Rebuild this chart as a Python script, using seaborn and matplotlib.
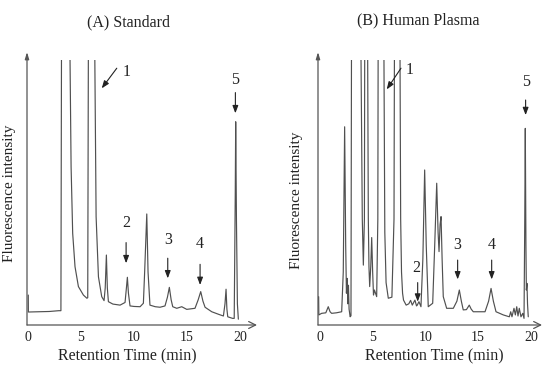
import numpy as np
import pandas as pd
import matplotlib
matplotlib.use("Agg")
import matplotlib.pyplot as plt
import seaborn as sns

# (A) Standard: retention time (min) / fluorescence signal (arbitrary units)
std_time = [0.02, 0.03, 1.0, 2.0, 2.9, 3.1, 3.18, 3.85, 3.96, 4.06, 4.21, 4.43, 4.75, 5.22, 5.55,
            5.63, 5.72, 6.2, 6.3, 6.42, 6.64, 6.95, 7.17, 7.28, 7.39, 7.48, 7.58, 8.0, 8.68,
            9.15, 9.28, 9.37, 9.47, 9.62, 10.0, 10.57, 10.88, 11.0, 11.2, 11.32, 11.5, 12.0,
            12.45, 12.92, 13.15, 13.33, 13.5, 13.65, 14.03, 14.5, 14.97, 15.75, 16.05, 16.29,
            16.5, 16.7, 17.33, 18.0, 18.43, 18.58, 18.68, 18.76, 18.84, 19.3, 19.45, 19.55,
            19.59, 19.66, 19.75, 19.84]
std_signal = [11.3, 4.9, 5.0, 5.1, 5.4, 5.4, 150, 150, 100, 59.7, 34.6, 22.0, 14.5, 11.3, 10.1,
              10.3, 150, 150, 100, 40.9, 18.2, 10.7, 9.2, 14.0, 26.4, 14.0, 8.8, 7.9, 7.5,
              8.5, 14.0, 18.0, 12.0, 7.2, 7.0, 6.9, 8.2, 20.0, 41.9, 20.0, 7.5, 6.9,
              6.7, 7.2, 10.5, 14.2, 9.5, 6.9, 6.3, 6.9, 5.9, 6.3, 9.5, 12.6,
              9.0, 6.7, 5.0, 4.0, 3.4, 8.0, 13.5, 6.0, 3.1, 2.5, 2.5, 50.0,
              76.7, 40.0, 8.0, 2.2]

# (B) Human plasma
plasma_time = [-0.08, -0.06, 0.2, 0.6, 0.83, 1.0, 1.15, 1.6, 2.1, 2.25, 2.38, 2.48, 2.55, 2.62,
               2.68, 2.74, 2.8, 2.9, 2.98, 3.05, 3.85, 3.93, 4.05, 4.15, 4.25, 4.3, 4.5, 4.56,
               4.62, 4.68, 4.75, 4.85, 4.94, 5.03, 5.11, 5.2, 5.3, 5.41, 5.52, 5.57, 6.0, 6.1,
               6.18, 6.3, 6.51, 6.85, 7.05, 7.12, 7.55, 7.62, 7.68, 7.76, 7.86, 7.95, 8.2, 8.45,
               8.62, 8.78, 9.03, 9.18, 9.25, 9.41, 9.6, 9.78, 9.95, 10.1, 10.29, 10.71, 10.9,
               11.09, 11.22, 11.31, 11.41, 11.5, 11.6, 11.71, 12.03, 12.66, 13.0, 13.23, 13.42,
               13.6, 13.9, 14.17, 14.35, 14.55, 15.66, 16.0, 16.23, 16.45, 16.7, 17.39, 17.96,
               18.09, 18.21, 18.4, 18.53, 18.66, 18.78, 18.9, 19.06, 19.23, 19.35, 19.42, 19.47,
               19.53, 19.57, 19.63, 19.68, 19.75]
plasma_signal = [10.7, 3.8, 4.4, 4.6, 6.9, 5.0, 4.4, 4.6, 5.0, 20.0, 74.8, 30.0, 12.0, 17.6,
                 8.0, 15.0, 6.0, 3.1, 3.5, 150, 150, 100, 40.0, 22.6, 40.0, 150, 150, 100,
                 40.0, 22.0, 14.5, 22.0, 33.0, 20.0, 11.3, 13.2, 12.0, 10.7, 40.0, 150, 150, 100,
                 35.0, 16.0, 10.1, 10.5, 40.0, 150, 150, 100, 40.0, 20.0, 12.0, 9.4, 7.5, 8.0,
                 9.3, 7.5, 9.4, 7.2, 7.5, 8.8, 6.9, 25.0, 58.5, 30.0, 6.9, 8.2, 30.0,
                 53.5, 35.0, 27.7, 38.0, 40.9, 25.0, 10.7, 6.3, 6.3, 9.0, 13.2, 9.0,
                 5.7, 5.8, 7.5, 6.0, 5.0, 5.0, 9.0, 13.8, 9.0, 5.0, 3.8, 3.1,
                 5.0, 3.1, 6.3, 3.8, 6.9, 3.4, 6.3, 3.1, 4.4, 2.5, 40.0, 74.2,
                 30.0, 13.2, 15.7, 8.0, 3.1]

peak_labels = ["1", "2", "3", "4", "5"]

sns.set_style("white")
plt.rcParams["font.family"] = ["Liberation Serif", "DejaVu Serif"]

fig = plt.figure(figsize=(5.5, 3.71), dpi=100)
ax_a = fig.add_axes([27 / 550, 1 - 325 / 371, 230 / 550, 265 / 371])
ax_b = fig.add_axes([318 / 550, 1 - 325 / 371, 224 / 550, 265 / 371])

line_col = "#505050"


def draw_panel(ax, t, s, xlim, title, title_xy, ylab_xy, xlab_xy, labels, arrows):
    data = pd.DataFrame({"time": t, "signal": s})
    sns.lineplot(data=data, x="time", y="signal", ax=ax, sort=False, estimator=None,
                 color=line_col, linewidth=0.85)
    ax.set_xlim(*xlim)
    ax.set_ylim(0, 100)
    ax.set_xticks([0, 5, 10, 15, 20])
    ax.set_yticks([])
    ax.tick_params(axis="x", direction="in", length=4.5, width=0.8, pad=4,
                   labelsize=10, colors="#222222")
    for side in ["top", "right", "left", "bottom"]:
        ax.spines[side].set_visible(False)

    # axes drawn as arrows
    ax.annotate("", xy=(1.0, 0), xytext=(0, 0), xycoords="axes fraction",
                arrowprops=dict(arrowstyle="->,head_length=0.5,head_width=0.25",
                                color="#555555", lw=0.9, shrinkA=0, shrinkB=0))
    ax.annotate("", xy=(0, 1.03), xytext=(0, 0), xycoords="axes fraction",
                arrowprops=dict(arrowstyle="-|>,head_length=0.4,head_width=0.12",
                                color="#555555", lw=0.9, shrinkA=0, shrinkB=0))

    ax.text(*title_xy, title, transform=ax.transAxes, ha="center", va="center",
            fontsize=11.5, color="#222222")
    ax.set_xlabel("Retention Time (min)", fontsize=11.5, color="#222222", va="center")
    ax.xaxis.set_label_coords(*xlab_xy)
    ax.set_ylabel("Fluorescence intensity", fontsize=11, color="#222222", va="center")
    ax.yaxis.set_label_coords(*ylab_xy)

    for name, (lx, ly), (tail, tip) in zip(peak_labels, labels, arrows):
        ax.text(lx, ly, name, ha="center", va="center", fontsize=11.5, color="#222222")
        ax.annotate("", xy=tip, xytext=tail,
                    arrowprops=dict(arrowstyle="-|>,head_length=0.45,head_width=0.17",
                                    color="#222222", lw=0.8, shrinkA=0, shrinkB=0),
                    annotation_clip=False)
    ax.set_facecolor("none")


draw_panel(ax_a, std_time, std_signal, (-0.1, 21.6), "(A) Standard",
           (0.443, 1.141), (-0.078, 0.498), (0.437, -0.12),
           [(9.31, 95.6), (9.25, 38.4), (13.18, 32.1), (16.23, 30.6), (19.56, 92.5)],
           [((8.37, 96.9), (6.95, 89.3)), ((9.25, 31.1), (9.25, 23.3)),
            ((13.18, 25.2), (13.18, 17.6)), ((16.23, 22.9), (16.23, 15.1)),
            ((19.56, 87.7), (19.56, 79.9))])

draw_panel(ax_b, plasma_time, plasma_signal, (-0.14, 21.05), "(B) Human Plasma",
           (0.446, 1.151), (-0.095, 0.472), (0.518, -0.12),
           [(8.56, 96.2), (9.2, 21.4), (13.07, 30.2), (16.29, 30.2), (19.5, 91.8)],
           [((7.71, 96.9), (6.36, 88.9)), ((9.29, 16.0), (9.29, 8.8)),
            ((13.07, 24.5), (13.07, 17.2)), ((16.29, 24.5), (16.29, 17.2)),
            ((19.5, 84.9), (19.5, 79.2))])

fig.savefig("out.png", dpi=100)
